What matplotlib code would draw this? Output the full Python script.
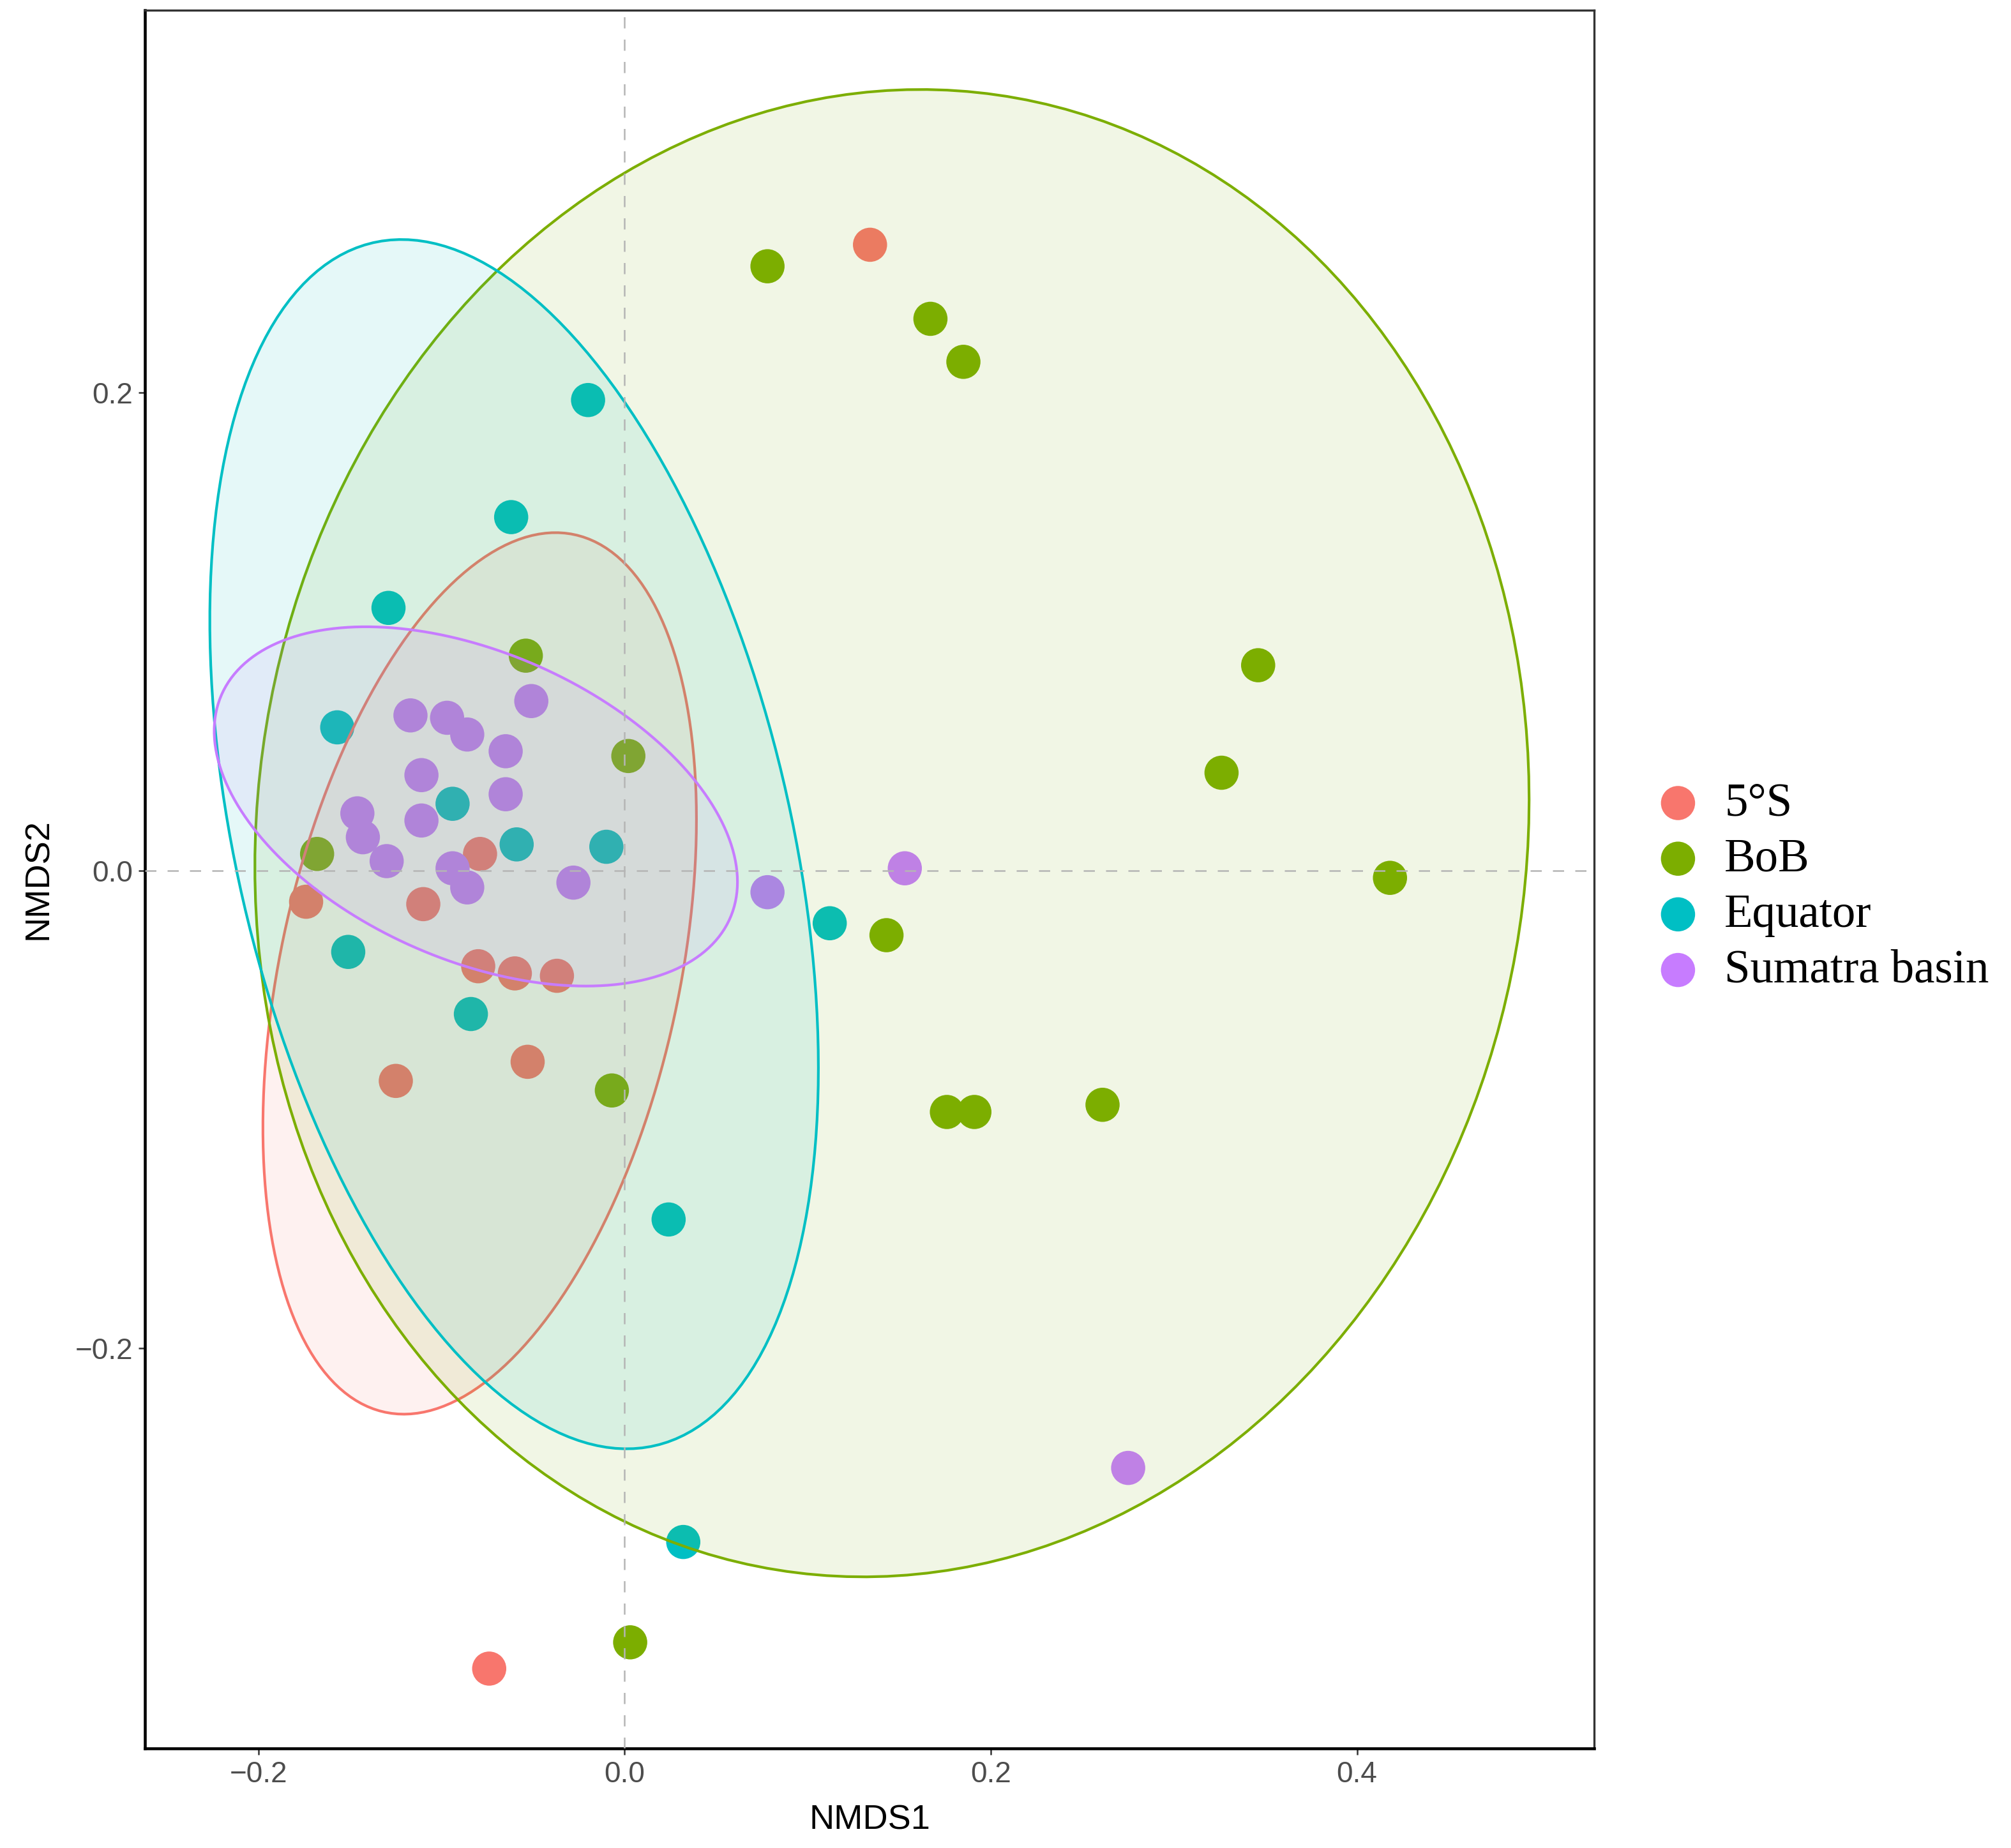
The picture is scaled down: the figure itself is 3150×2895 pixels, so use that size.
import numpy as np
import matplotlib
matplotlib.use("Agg")
import matplotlib.pyplot as plt
from matplotlib.colors import to_rgba

# ---------------- data ----------------
groups = ["5°S", "BoB", "Equator", "Sumatra basin"]
colors = ["#F8766D", "#7CAE00", "#00BFC4", "#C77CFF"]

s5_x = [0.134, -0.074, -0.079, -0.174, -0.110, -0.080, -0.060, -0.037, -0.125, -0.053]
s5_y = [0.262, -0.334, 0.007, -0.013, -0.014, -0.040, -0.043, -0.044, -0.088, -0.080]

bob_x = [0.078, 0.167, 0.185, -0.054, 0.002, -0.168, 0.346, 0.326, 0.418, 0.143,
         -0.007, 0.176, 0.191, 0.261, 0.003]
bob_y = [0.253, 0.231, 0.213, 0.090, 0.048, 0.007, 0.086, 0.041, -0.003, -0.027,
         -0.092, -0.101, -0.101, -0.098, -0.323]

eq_x = [-0.020, -0.062, -0.129, -0.157, -0.094, -0.059, -0.010, -0.151, -0.084, 0.112,
        0.024, 0.032]
eq_y = [0.197, 0.148, 0.110, 0.060, 0.028, 0.011, 0.010, -0.034, -0.060, -0.022,
        -0.146, -0.281]

sb_x = [-0.051, -0.117, -0.097, -0.086, -0.065, -0.111, -0.065, -0.146, -0.111, -0.143,
        -0.130, -0.094, -0.086, -0.028, 0.078, 0.153, 0.275]
sb_y = [0.071, 0.065, 0.064, 0.057, 0.050, 0.040, 0.032, 0.024, 0.021, 0.014,
        0.004, 0.001, -0.007, -0.005, -0.009, 0.001, -0.250]

series_x = [s5_x, bob_x, eq_x, sb_x]
series_y = [s5_y, bob_y, eq_y, sb_y]

# 95% ellipses: centre, half-extent in x and y, correlation term
ell_cx = [-0.0792, 0.146, -0.0604, -0.0813]
ell_cy = [-0.043, 0.0157, 0.0111, 0.0269]
ell_w = [0.1184, 0.348, 0.1662, 0.1429]
ell_h = [0.1845, 0.3113, 0.2531, 0.0752]
ell_r = [0.35, 0.045, -0.37, -0.42]

x_ticks = [-0.2, 0.0, 0.2, 0.4]
y_ticks = [-0.2, 0.0, 0.2]

# ---------------- figure ----------------
plt.rcParams['font.family'] = ['Liberation Sans', 'DejaVu Sans']

fig = plt.figure(figsize=(10.5, 9.65), dpi=300)
ax = fig.add_axes([0.0721, 0.0539, 0.7206, 0.9406])

for gx, gy, c, lab in zip(series_x, series_y, colors, groups):
    ax.scatter(gx, gy, s=165, color=c, edgecolors='none', zorder=2, label=lab)

t = np.linspace(0, 2 * np.pi, 200)
for cx, cy, w, h, r, c in zip(ell_cx, ell_cy, ell_w, ell_h, ell_r, colors):
    ex = cx + w * np.cos(t)
    ey = cy + h * (r * np.cos(t) + np.sqrt(1 - r * r) * np.sin(t))
    ax.fill(ex, ey, facecolor=to_rgba(c, 0.1), edgecolor=c, lw=1.0, zorder=3)

ax.axhline(0, color='#B5B5B5', lw=0.6, dashes=(7, 7), zorder=4)
ax.axvline(0, color='#B5B5B5', lw=0.6, dashes=(7, 7), zorder=4)

ax.set_xlim(-0.262, 0.5295)
ax.set_ylim(-0.3674, 0.3602)
ax.set_xticks(x_ticks)
ax.set_yticks(y_ticks)
ax.set_xticklabels([f"{v:.1f}".replace("-", "\u2212") for v in x_ticks])
ax.set_yticklabels([f"{v:.1f}".replace("-", "\u2212") for v in y_ticks])
ax.tick_params(axis='both', length=2.5, width=0.6, color='#333333',
               labelsize=11, labelcolor='#4D4D4D', pad=2)

for side in ['left', 'bottom']:
    ax.spines[side].set_linewidth(1.1)
    ax.spines[side].set_color('black')
for side in ['top', 'right']:
    ax.spines[side].set_linewidth(0.8)
    ax.spines[side].set_color('#333333')

ax.set_xlabel("NMDS1", fontsize=13, labelpad=6)
ax.set_ylabel("NMDS2", fontsize=13, labelpad=8)

leg = ax.legend(loc='center left', bbox_to_anchor=(0.824, 0.5198),
                bbox_transform=fig.transFigure, frameon=False,
                prop={'family': ['Liberation Serif', 'DejaVu Serif'], 'size': 17.5},
                handlelength=0.9, handletextpad=0.55, labelspacing=0.27,
                borderaxespad=0, borderpad=0)

fig.savefig("out.png", dpi=300)
